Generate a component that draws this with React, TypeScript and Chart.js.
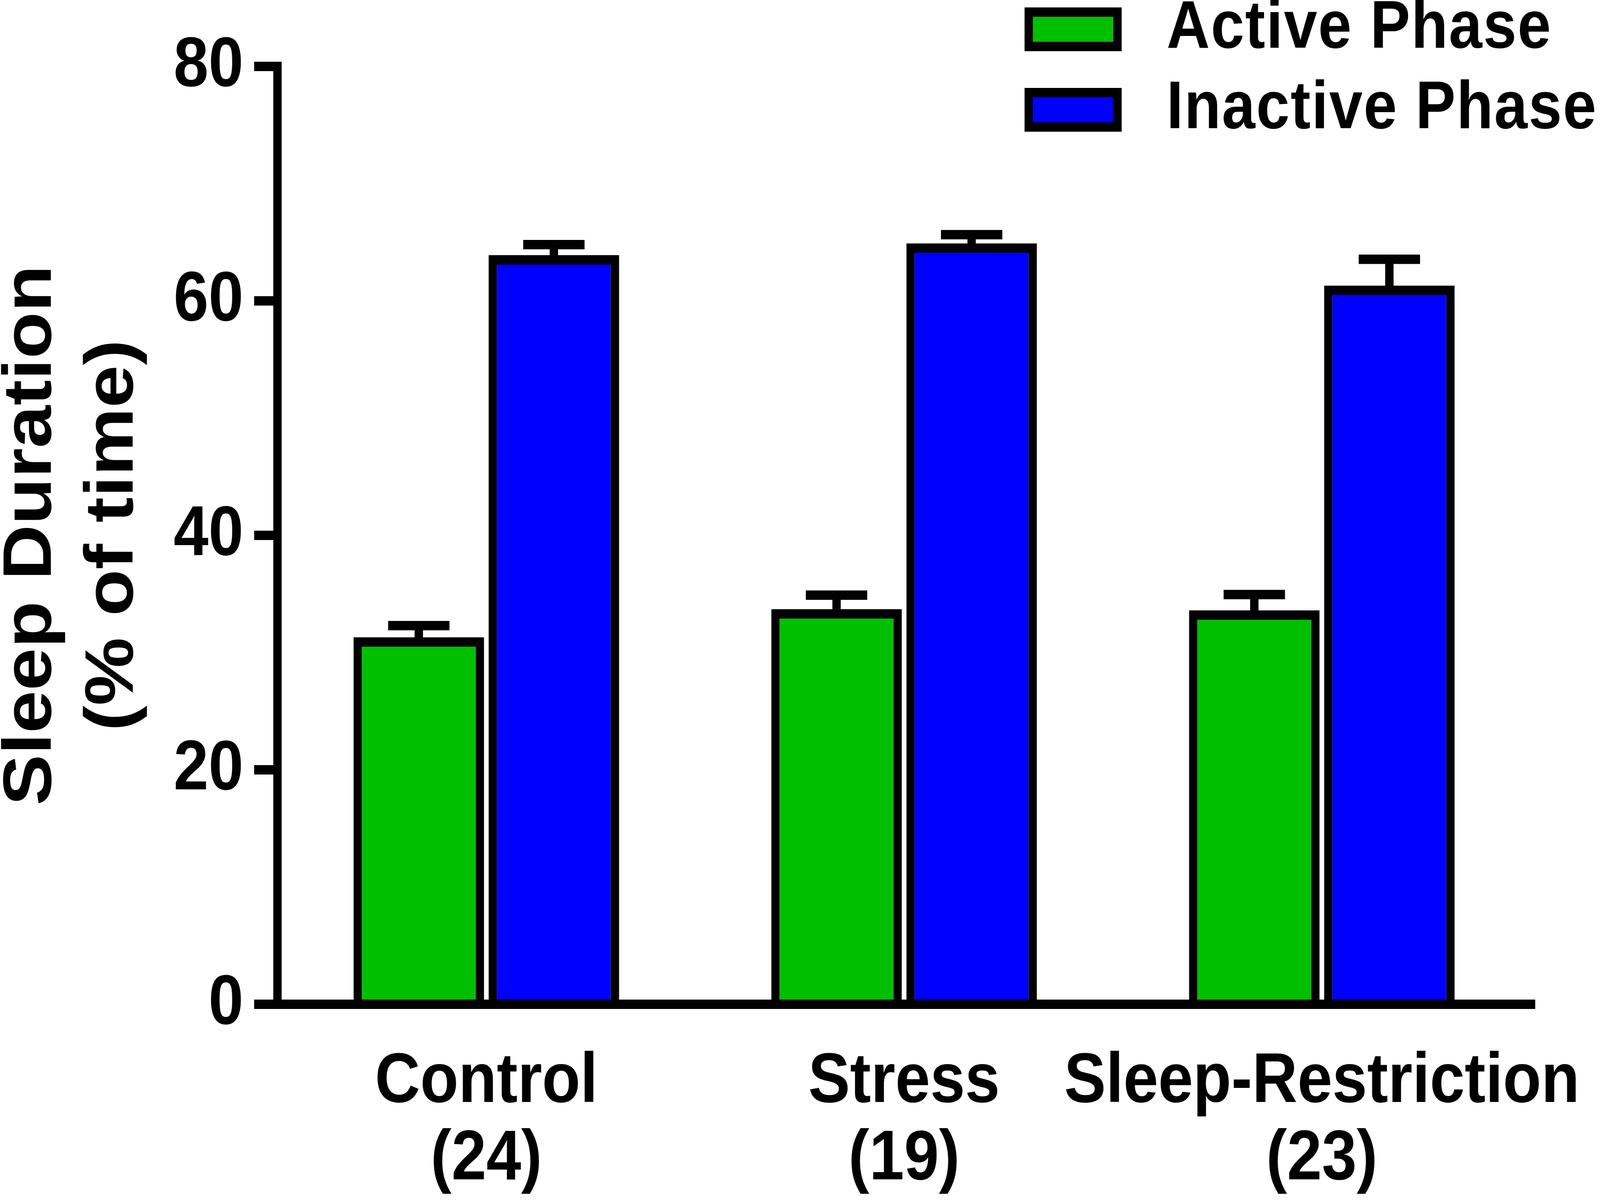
import React, { useEffect, useRef } from "react";
import { Chart, registerables } from "chart.js";

Chart.register(...registerables);

// ---- data ----
const categories = [
  ["Control", "(24)"],
  ["Stress", "(19)"],
  ["Sleep-Restriction", "(23)"],
];
const seriesNames = ["Active Phase", "Inactive Phase"];
const activeValues = [31.3, 33.7, 33.6];
const activeErrors = [1.0, 1.2, 1.35];
const inactiveValues = [63.9, 64.9, 61.3];
const inactiveErrors = [0.9, 0.75, 2.25];
const yTicks = [0, 20, 40, 60, 80];
const yTitle = ["Sleep Duration", "(% of time)"];

// drawing size of the chart (same as the reference picture)
const W = 4596;
const H = 3076;
const FONT = "'Liberation Sans', Arial, Helvetica, sans-serif";

export default function App() {
  const ref = useRef<HTMLCanvasElement | null>(null);

  useEffect(() => {
    document.body.style.margin = "0";
    document.body.style.overflow = "hidden";
    const canvas = ref.current;
    if (!canvas) return;

    const errorBars = {
      id: "errorBars",
      afterDatasetsDraw(chart: any) {
        const ctx = chart.ctx;
        const yScale = chart.scales.y;
        chart.data.datasets.forEach((ds: any, i: number) => {
          const meta = chart.getDatasetMeta(i);
          meta.data.forEach((bar: any, j: number) => {
            const v = ds.data[j];
            const e = ds.errors[j];
            const yTop = bar.y;
            const yCap = yScale.getPixelForValue(v + e);
            const half = bar.width * 0.235;
            ctx.save();
            ctx.strokeStyle = "#000";
            ctx.lineWidth = 24;
            ctx.lineCap = "butt";
            ctx.beginPath();
            ctx.moveTo(bar.x, yTop);
            ctx.lineTo(bar.x, yCap);
            ctx.stroke();
            ctx.beginPath();
            ctx.moveTo(bar.x - half, yCap);
            ctx.lineTo(bar.x + half, yCap);
            ctx.stroke();
            ctx.restore();
          });
        });
      },
    };

    const legendPlacer = {
      id: "legendPlacer",
      beforeDraw(chart: any) {
        const lg = chart.legend;
        if (!lg) return;
        lg.left = 2921;
        lg.top = -45;
        lg.right = W;
        lg.bottom = 1000;
        lg.width = lg.right - lg.left;
        lg.height = lg.bottom - lg.top;
        if (!lg.__wrapped) {
          const orig = lg.draw.bind(lg);
          const split = 3285; // between the swatches and the label text
          const textShift = 55;
          lg.draw = (area: any) => {
            const c = chart.ctx;
            // swatches
            c.save();
            c.beginPath();
            c.rect(0, 0, split, H);
            c.clip();
            orig(area);
            c.restore();
            // label text, a little further from the swatches and letter-spaced
            c.save();
            c.beginPath();
            c.rect(split, 0, W - split, H);
            c.clip();
            c.translate(textShift, 0);
            try {
              (c as any).letterSpacing = "3px";
            } catch (err) {}
            orig(area);
            c.restore();
          };
          lg.__wrapped = true;
        }
      },
    };

    const chart = new Chart(canvas, {
      type: "bar",
      data: {
        labels: categories,
        datasets: [
          {
            label: seriesNames[0],
            data: activeValues,
            errors: activeErrors,
            backgroundColor: "#00BF00",
            borderColor: "#000000",
            borderWidth: 24,
            borderSkipped: "start",
            categoryPercentage: 0.6467,
            barPercentage: 0.9665,
          } as any,
          {
            label: seriesNames[1],
            data: inactiveValues,
            errors: inactiveErrors,
            backgroundColor: "#0000FF",
            borderColor: "#000000",
            borderWidth: 24,
            borderSkipped: "start",
            categoryPercentage: 0.6467,
            barPercentage: 0.9665,
          } as any,
        ],
      },
      options: {
        animation: false,
        responsive: false,
        devicePixelRatio: 1,
        layout: { padding: { left: 0, top: 170, right: 199, bottom: 0 } },
        plugins: {
          legend: {
            position: "chartArea" as any,
            align: "start",
            labels: {
              boxWidth: 255,
              boxHeight: 88,
              padding: 34,
              color: "#000",
              font: { family: FONT, size: 172, weight: "bold" },
            },
          },
          tooltip: { enabled: false },
        },
        scales: {
          x: {
            type: "category",
            offset: true,
            grid: { display: false, drawTicks: false, tickLength: 0, lineWidth: 26 },
            border: { display: true, color: "#000", width: 24, z: 1 },
            ticks: {
              color: "#000",
              padding: 101,
              autoSkip: false,
              maxRotation: 0,
              minRotation: 0,
              font: { family: FONT, size: 180, weight: "bold", lineHeight: 1.1 },
            },
            afterFit: (s: any) => {
              s.height = H - 2570;
              s.paddingLeft = 0;
              s.paddingRight = 0;
            },
          },
          y: {
            min: yTicks[0],
            max: yTicks[yTicks.length - 1],
            afterBuildTicks: (s: any) => {
              s.ticks = yTicks.map((v) => ({ value: v }));
            },
            ticks: {
              color: "#000",
              padding: 31,
              font: { family: FONT, size: 180, weight: "bold" },
            },
            grid: {
              display: true,
              drawOnChartArea: false,
              drawTicks: true,
              tickLength: 67,
              lineWidth: 24,
              tickWidth: 24,
              color: "#000",
              tickColor: "#000",
            },
            border: { display: true, color: "#000", width: 24 },
            title: {
              display: true,
              text: yTitle,
              color: "#000",
              font: { family: FONT, size: 196, weight: "bold", lineHeight: 1.2 },
              padding: { top: -26, bottom: 0 },
            },
            afterFit: (s: any) => {
              s.width = 797;
              s.paddingTop = 0;
              s.paddingBottom = 0;
            },
          },
        },
      } as any,
      plugins: [errorBars, legendPlacer],
    });

    return () => {
      chart.destroy();
    };
  }, []);

  // the chart is drawn at the reference size and shown stretched to the window
  return (
    <canvas
      ref={ref}
      width={W}
      height={H}
      style={{
        display: "block",
        position: "fixed",
        left: 0,
        top: 0,
        width: "100vw",
        height: "100vh",
        background: "#fff",
      }}
    />
  );
}
